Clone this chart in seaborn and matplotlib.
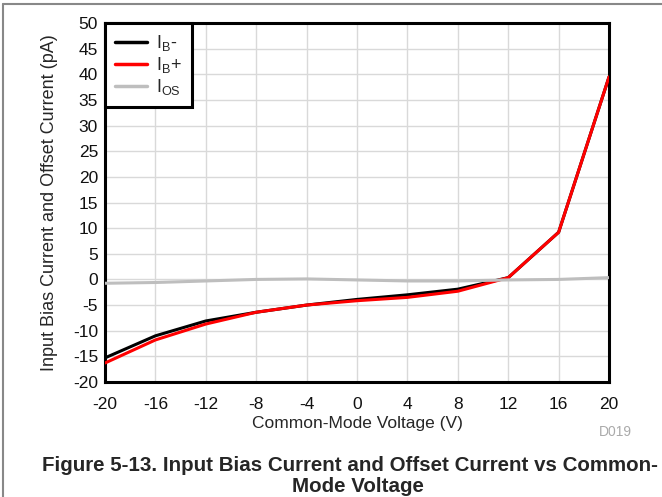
import numpy as np
import pandas as pd
import matplotlib
matplotlib.use('Agg')
import matplotlib.pyplot as plt
import seaborn as sns
from matplotlib.lines import Line2D

# datos
vcm = [-20, -16, -12, -8, -4, 0, 4, 8, 12, 16, 20]
ib_minus = [-15.3, -11.0, -8.1, -6.4, -5.0, -3.9, -3.0, -1.9, 0.35, 9.2, 39.5]
ib_plus = [-16.3, -11.8, -8.7, -6.4, -5.0, -4.15, -3.5, -2.3, 0.35, 9.2, 39.5]
ios = [-0.75, -0.6, -0.3, 0.0, 0.1, -0.1, -0.3, -0.3, -0.1, 0.0, 0.35]
series = [r'$\mathregular{I_B}$-', r'$\mathregular{I_B}$+', r'$\mathregular{I_{OS}}$']
colors = ['black', '#ff0000', '#bebebe']
x_ticks = [-20, -16, -12, -8, -4, 0, 4, 8, 12, 16, 20]
y_ticks = list(range(-20, 51, 5))

df = pd.DataFrame({
    'vcm': vcm * 3,
    'val': ib_minus + ib_plus + ios,
    'serie': [series[0]] * len(vcm) + [series[1]] * len(vcm) + [series[2]] * len(vcm),
})

sns.set_style('white')
plt.rcParams['font.family'] = ['Liberation Sans', 'DejaVu Sans']
plt.rcParams['mathtext.fontset'] = 'custom'
plt.rcParams['mathtext.rm'] = 'Liberation Sans'
plt.rcParams['axes.unicode_minus'] = False

fig = plt.figure(figsize=(6.62, 4.97), dpi=100)
ax = fig.add_axes([0.1586, 0.2314, 0.7614, 0.7223])

sns.lineplot(data=df, x='vcm', y='val', hue='serie', hue_order=series,
             palette=colors, linewidth=2.2, ax=ax, legend=False, zorder=3)

ax.set_xlim(-20, 20)
ax.set_ylim(-20, 50)
ax.set_xticks(x_ticks)
ax.set_yticks(y_ticks)
ax.grid(True, color='#d9d9d9', linewidth=1.0)
ax.tick_params(axis='x', length=0, labelsize=12.5, pad=11, colors='#111111')
ax.tick_params(axis='y', length=0, labelsize=12.5, pad=5, colors='#111111')
for s in ax.spines.values():
    s.set_linewidth(2.2)
    s.set_color('black')
ax.set_xlabel('Common-Mode Voltage (V)', fontsize=12.5, labelpad=3)
ax.set_ylabel('Input Bias Current and Offset Current (pA)', fontsize=13, labelpad=11)

handles = [Line2D([0], [0], color=c, lw=2.5) for c in colors]
leg = ax.legend(handles, series, loc='upper left', fontsize=13, frameon=True,
                fancybox=False, borderaxespad=0.0, handlelength=1.75,
                labelspacing=0.12, borderpad=0.55, handletextpad=0.55)
leg.get_frame().set_edgecolor('black')
leg.get_frame().set_linewidth(2.2)
leg.get_frame().set_alpha(1)

fig.text(0.929, 0.122, 'D019', fontsize=10, color='#aaaaaa', ha='center')
fig.text(0.528, 0.052, 'Figure 5-13. Input Bias Current and Offset Current vs Common-',
         fontsize=14.8, weight='bold', ha='center')
fig.text(0.54, 0.011, 'Mode Voltage', fontsize=14.8, weight='bold', ha='center')

# borde de la figura
fig.add_artist(Line2D([0.004, 1.0], [0.991, 0.991], color='#888888', lw=1.5, transform=fig.transFigure))
fig.add_artist(Line2D([0.005, 0.005], [0.0, 0.991], color='#888888', lw=1.5, transform=fig.transFigure))

fig.savefig('out.png', dpi=100)
